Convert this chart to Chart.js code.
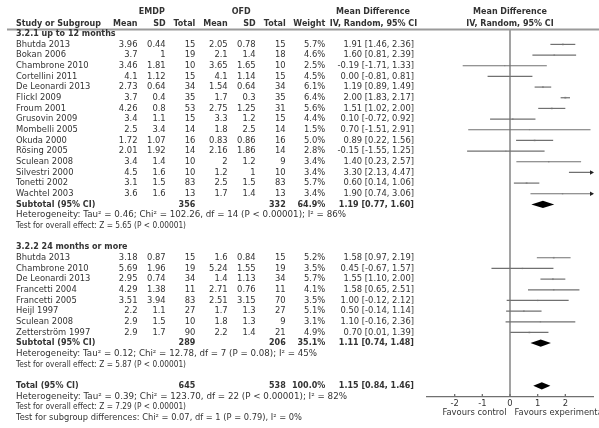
<!DOCTYPE html>
<html>
<head>
<meta charset="utf-8">
<script src="https://cdn.jsdelivr.net/npm/chart.js@4.4.0/dist/chart.umd.min.js"></script>
<style>
  html, body { margin: 0; padding: 0; background: #fff; }
  #wrap { width: 599px; height: 428px; }
</style>
</head>
<body>
<div id="wrap"><canvas id="forest" width="599" height="428"></canvas></div>
<script>
// 3.2.1 up to 12 months
let studies1 = ['Bhutda 2013', 'Bokan 2006', 'Chambrone 2010', 'Cortellini 2011', 'De Leonardi 2013',
  'Flickl 2009', 'Froum 2001', 'Grusovin 2009', 'Mombelli 2005', 'Okuda 2000', 'Rösing 2005',
  'Sculean 2008', 'Silvestri 2000', 'Tonetti 2002', 'Wachtel 2003'];
let emdpMean1 = [3.96, 3.7, 3.46, 4.1, 2.73, 3.7, 4.26, 3.4, 2.5, 1.72, 2.01, 3.4, 4.5, 3.1, 3.6];
let emdpSd1 = [0.44, 1, 1.81, 1.12, 0.64, 0.4, 0.8, 1.1, 3.4, 1.07, 1.92, 1.4, 1.6, 1.5, 1.6];
let emdpN1 = [15, 19, 10, 15, 34, 35, 53, 15, 14, 16, 14, 10, 10, 83, 13];
let ofdMean1 = [2.05, 2.1, 3.65, 4.1, 1.54, 1.7, 2.75, 3.3, 1.8, 0.83, 2.16, 2, 1.2, 2.5, 1.7];
let ofdSd1 = [0.78, 1.4, 1.65, 1.14, 0.64, 0.3, 1.25, 1.2, 2.5, 0.86, 1.86, 1.2, 1, 1.5, 1.4];
let ofdN1 = [15, 18, 10, 15, 34, 35, 31, 15, 14, 16, 14, 9, 10, 83, 13];
let weight1 = [5.7, 4.6, 2.5, 4.5, 6.1, 6.4, 5.6, 4.4, 1.5, 5.0, 2.8, 3.4, 3.4, 5.7, 3.4];
let md1 = [1.91, 1.60, -0.19, 0.00, 1.19, 2.00, 1.51, 0.10, 0.70, 0.89, -0.15, 1.40, 3.30, 0.60, 1.90];
let lo1 = [1.46, 0.81, -1.71, -0.81, 0.89, 1.83, 1.02, -0.72, -1.51, 0.22, -1.55, 0.23, 2.13, 0.14, 0.74];
let hi1 = [2.36, 2.39, 1.33, 0.81, 1.49, 2.17, 2.00, 0.92, 2.91, 1.56, 1.25, 2.57, 4.47, 1.06, 3.06];

// 3.2.2 24 months or more
let studies2 = ['Bhutda 2013', 'Chambrone 2010', 'De Leonardi 2013', 'Francetti 2004', 'Francetti 2005',
  'Heijl 1997', 'Sculean 2008', 'Zetterström 1997'];
let emdpMean2 = [3.18, 5.69, 2.95, 4.29, 3.51, 2.2, 2.9, 2.9];
let emdpSd2 = [0.87, 1.96, 0.74, 1.38, 3.94, 1.1, 1.5, 1.7];
let emdpN2 = [15, 19, 34, 11, 83, 27, 10, 90];
let ofdMean2 = [1.6, 5.24, 1.4, 2.71, 2.51, 1.7, 1.8, 2.2];
let ofdSd2 = [0.84, 1.55, 1.13, 0.76, 3.15, 1.3, 1.3, 1.4];
let ofdN2 = [15, 19, 34, 11, 70, 27, 9, 21];
let weight2 = [5.2, 3.5, 5.7, 4.1, 3.5, 5.1, 3.1, 4.9];
let md2 = [1.58, 0.45, 1.55, 1.58, 1.00, 0.50, 1.10, 0.70];
let lo2 = [0.97, -0.67, 1.10, 0.65, -0.12, -0.14, -0.16, 0.01];
let hi2 = [2.19, 1.57, 2.00, 2.51, 2.12, 1.14, 2.36, 1.39];

// pooled results: subtotal 1, subtotal 2, total
let pooledLabel = ['Subtotal (95% CI)', 'Subtotal (95% CI)', 'Total (95% CI)'];
let pooledEmdpN = [356, 289, 645];
let pooledOfdN = [332, 206, 538];
let pooledWeight = [64.9, 35.1, 100.0];
let pooledMd = [1.19, 1.11, 1.15];
let pooledLo = [0.77, 0.74, 0.84];
let pooledHi = [1.60, 1.48, 1.46];

let statLines = [
  'Heterogeneity: Tau\u00b2 = 0.46; Chi\u00b2 = 102.26, df = 14 (P < 0.00001); I\u00b2 = 86%',
  'Test for overall effect: Z = 5.65 (P < 0.00001)',
  'Heterogeneity: Tau\u00b2 = 0.12; Chi\u00b2 = 12.78, df = 7 (P = 0.08); I\u00b2 = 45%',
  'Test for overall effect: Z = 5.87 (P < 0.00001)',
  'Heterogeneity: Tau\u00b2 = 0.39; Chi\u00b2 = 123.70, df = 22 (P < 0.00001); I\u00b2 = 82%',
  'Test for overall effect: Z = 7.29 (P < 0.00001)',
  'Test for subgroup differences: Chi\u00b2 = 0.07, df = 1 (P = 0.79), I\u00b2 = 0%',
];

let xTicks = [-2, -1, 0, 1, 2];
let xMin = -3;
let xMax = 3;

// row numbers (one row per text line)
let rows1 = studies1.map((s, i) => 1 + i);
let rows2 = studies2.map((s, i) => 21 + i);
let pooledRows = [16, 29, 33];
let statRows = [17, 18, 30, 31, 34, 35, 36];

const FONT = '"DejaVu Sans", Verdana, sans-serif';
const TEXT = '#333';
const LINE = '#707070';

// column right edges (table layout)
const col = { name: 16, eMean: 137.5, eSd: 165.7, eN: 195.3, oMean: 227.7, oSd: 255.7, oN: 285.7, w: 325.3, ci: 414 };
// where each statistics line ends in the reference
const statEnd = [346, 186, 317, 186, 347, 186, 302];

function fmtCI(m, l, h) {
  return m.toFixed(2) + ' [' + l.toFixed(2) + ', ' + h.toFixed(2) + ']';
}

let ciSets = [];
function addCI(lo, hi, rows) {
  lo.forEach((v, i) => {
    ciSets.push({
      data: [{ x: v, y: rows[i] }, { x: hi[i], y: rows[i] }],
      showLine: true,
      borderColor: LINE,
      borderWidth: 1.2,
      pointRadius: 0,
    });
  });
}
addCI(lo1, hi1, rows1);
addCI(lo2, hi2, rows2);

let squares = {
  data: md1.map((v, i) => ({ x: v, y: rows1[i] })).concat(md2.map((v, i) => ({ x: v, y: rows2[i] }))),
  pointStyle: 'rect',
  pointRadius: weight1.concat(weight2).map(w => Math.sqrt(w) * 0.55),
  backgroundColor: '#b4b4b4',
  borderWidth: 0,
};

const forestPlugin = {
  id: 'forest',
  beforeDatasetsDraw(chart) {
    const { ctx, chartArea, scales } = chart;
    const x0 = scales.x.getPixelForValue(0);
    ctx.save();
    ctx.strokeStyle = LINE;
    ctx.lineWidth = 1.3;
    ctx.beginPath();
    ctx.moveTo(x0, chartArea.top);
    ctx.lineTo(x0, chartArea.bottom);
    ctx.stroke();
    // tick marks point up from the axis
    xTicks.forEach(t => {
      const px = scales.x.getPixelForValue(t);
      ctx.beginPath();
      ctx.moveTo(px, chartArea.bottom);
      ctx.lineTo(px, chartArea.bottom - 3);
      ctx.stroke();
    });
    ctx.restore();
  },
  afterDatasetsDraw(chart) {
    const { ctx, chartArea, scales } = chart;
    const x = scales.x, y = scales.y;
    ctx.save();
    // arrows for intervals running off the scale
    ctx.fillStyle = '#222';
    const allRows = rows1.concat(rows2);
    hi1.concat(hi2).forEach((h, i) => {
      if (h <= xMax) return;
      const py = y.getPixelForValue(allRows[i]);
      const px = chartArea.right + 1;
      ctx.beginPath();
      ctx.moveTo(px, py);
      ctx.lineTo(px - 4, py - 2.2);
      ctx.lineTo(px - 4, py + 2.2);
      ctx.closePath();
      ctx.fill();
    });
    // pooled diamonds
    ctx.fillStyle = '#000';
    const half = (y.getPixelForValue(1) - y.getPixelForValue(0)) * 0.34;
    pooledMd.forEach((m, i) => {
      const py = y.getPixelForValue(pooledRows[i]);
      ctx.beginPath();
      ctx.moveTo(x.getPixelForValue(pooledLo[i]), py);
      ctx.lineTo(x.getPixelForValue(m), py - half);
      ctx.lineTo(x.getPixelForValue(pooledHi[i]), py);
      ctx.lineTo(x.getPixelForValue(m), py + half);
      ctx.closePath();
      ctx.fill();
    });
    ctx.restore();
  },
  afterDraw(chart) {
    const { ctx, scales, chartArea } = chart;
    const y = scales.y;
    const x0 = scales.x.getPixelForValue(0);
    ctx.save();
    ctx.fillStyle = TEXT;
    ctx.textBaseline = 'middle';

    function txt(s, px, py, align, bold) {
      ctx.font = (bold ? 'bold 8px ' : '8.4px ') + FONT;
      ctx.textAlign = align;
      ctx.fillText(s, px, py);
    }

    // header
    txt('EMDP', 151.8, 12.3, 'center', true);
    txt('OFD', 241.2, 12.3, 'center', true);
    txt('Mean Difference', 373, 12.3, 'center', true);
    txt('Mean Difference', x0, 12.3, 'center', true);
    txt('Study or Subgroup', col.name, 23.7, 'left', true);
    txt('Mean', col.eMean, 23.7, 'right', true);
    txt('SD', col.eSd, 23.7, 'right', true);
    txt('Total', col.eN, 23.7, 'right', true);
    txt('Mean', col.oMean, 23.7, 'right', true);
    txt('SD', col.oSd, 23.7, 'right', true);
    txt('Total', col.oN, 23.7, 'right', true);
    txt('Weight', col.w, 23.7, 'right', true);
    txt('IV, Random, 95% CI', 373.5, 23.7, 'center', true);
    txt('IV, Random, 95% CI', x0, 23.7, 'center', true);

    ctx.strokeStyle = '#9a9a9a';
    ctx.lineWidth = 2;
    ctx.beginPath();
    ctx.moveTo(7, 29.5);
    ctx.lineTo(599, 29.5);
    ctx.stroke();

    txt('3.2.1 up to 12 months', col.name, y.getPixelForValue(0), 'left', true);
    txt('3.2.2 24 months or more', col.name, y.getPixelForValue(20), 'left', true);

    function studyRows(names, eM, eS, eN, oM, oS, oN, w, m, l, h, rows) {
      names.forEach((n, i) => {
        const py = y.getPixelForValue(rows[i]);
        txt(n, col.name, py, 'left', false);
        txt(String(eM[i]), col.eMean, py, 'right', false);
        txt(String(eS[i]), col.eSd, py, 'right', false);
        txt(String(eN[i]), col.eN, py, 'right', false);
        txt(String(oM[i]), col.oMean, py, 'right', false);
        txt(String(oS[i]), col.oSd, py, 'right', false);
        txt(String(oN[i]), col.oN, py, 'right', false);
        txt(w[i].toFixed(1) + '%', col.w, py, 'right', false);
        txt(fmtCI(m[i], l[i], h[i]), col.ci, py, 'right', false);
      });
    }
    studyRows(studies1, emdpMean1, emdpSd1, emdpN1, ofdMean1, ofdSd1, ofdN1, weight1, md1, lo1, hi1, rows1);
    studyRows(studies2, emdpMean2, emdpSd2, emdpN2, ofdMean2, ofdSd2, ofdN2, weight2, md2, lo2, hi2, rows2);

    pooledLabel.forEach((lab, i) => {
      const py = y.getPixelForValue(pooledRows[i]);
      txt(lab, col.name, py, 'left', true);
      txt(String(pooledEmdpN[i]), col.eN, py, 'right', true);
      txt(String(pooledOfdN[i]), col.oN, py, 'right', true);
      txt(pooledWeight[i].toFixed(1) + '%', col.w, py, 'right', true);
      txt(fmtCI(pooledMd[i], pooledLo[i], pooledHi[i]), col.ci, py, 'right', true);
    });

    // statistics lines, fitted horizontally to the reference line length
    statLines.forEach((s, i) => {
      const py = y.getPixelForValue(statRows[i]);
      ctx.font = '8.1px ' + FONT;
      ctx.textAlign = 'left';
      const wNat = ctx.measureText(s).width;
      const sx = (statEnd[i] - col.name) / wNat;
      ctx.save();
      ctx.translate(col.name, py);
      ctx.scale(sx, 1);
      ctx.fillText(s, 0, 0);
      ctx.restore();
    });

    const fy = chartArea.bottom + 16;
    txt('Favours control', x0 - 3.5, fy, 'right', false);
    txt('Favours experimental', x0 + 4.5, fy, 'left', false);
    ctx.restore();
  },
};

let ctx = document.getElementById('forest').getContext('2d');
let forestChart = new Chart(ctx, {
  type: 'scatter',
  data: { datasets: ciSets.concat([squares]) },
  options: {
    responsive: false,
    animation: false,
    devicePixelRatio: 1,
    layout: { padding: { left: 427, right: 6, top: 30, bottom: 11 } },
    plugins: { legend: { display: false }, tooltip: { enabled: false } },
    scales: {
      x: {
        type: 'linear',
        min: xMin,
        max: xMax,
        afterBuildTicks: s => { s.ticks = xTicks.map(v => ({ value: v })); },
        afterFit: s => { s.height = 20; },
        grid: { display: false, drawTicks: false },
        border: { display: true, color: LINE, width: 1.3 },
        ticks: { padding: 2, color: TEXT, font: { family: FONT, size: 8.4 }, maxRotation: 0 },
      },
      y: {
        type: 'linear',
        display: false,
        reverse: true,
        min: -0.35,
        max: 34.05,
      },
    },
  },
  plugins: [forestPlugin],
});
</script>
</body>
</html>
